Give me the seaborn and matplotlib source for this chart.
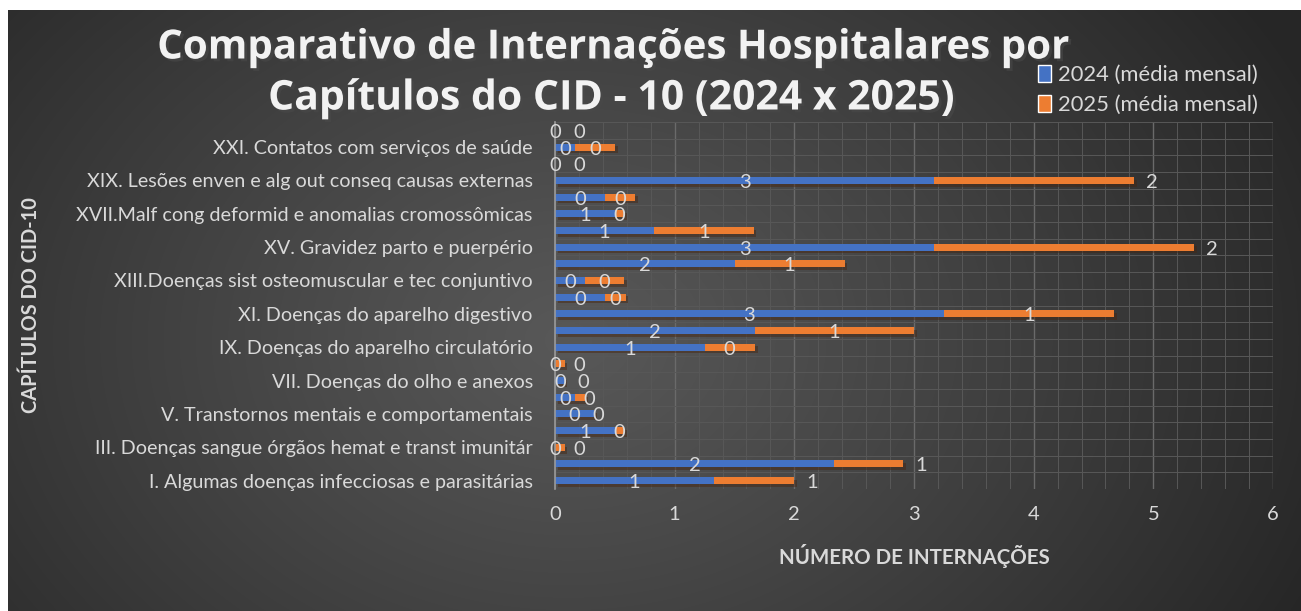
import matplotlib
matplotlib.use("Agg")
import matplotlib.pyplot as plt
import matplotlib.patheffects as pe
from matplotlib.patches import Patch
from matplotlib.ticker import MultipleLocator
import numpy as np
import pandas as pd
import seaborn as sns

CAPITULOS = [
    "I. Algumas doenças infecciosas e parasitárias",
    "II. Neoplasias (tumores)",
    "III. Doenças sangue órgãos hemat e transt imunitár",
    "IV. Doenças endócrinas nutricionais e metabólicas",
    "V. Transtornos mentais e comportamentais",
    "VI. Doenças do sistema nervoso",
    "VII. Doenças do olho e anexos",
    "VIII.Doenças do ouvido e da apófise mastóide",
    "IX. Doenças do aparelho circulatório",
    "X. Doenças do aparelho respiratório",
    "XI. Doenças do aparelho digestivo",
    "XII. Doenças da pele e do tecido subcutâneo",
    "XIII.Doenças sist osteomuscular e tec conjuntivo",
    "XIV. Doenças do aparelho geniturinário",
    "XV. Gravidez parto e puerpério",
    "XVI. Algumas afec originadas no período perinatal",
    "XVII.Malf cong deformid e anomalias cromossômicas",
    "XVIII.Sint sinais e achad anorm ex clín e laborat",
    "XIX. Lesões enven e alg out conseq causas externas",
    "XX. Causas externas de morbidade e mortalidade",
    "XXI. Contatos com serviços de saúde",
    "XXII. Códigos para propósitos especiais",
]
MEDIA_2024 = [1.33, 2.33, 0.0, 0.50, 0.33, 0.17, 0.08, 0.0, 1.25, 1.67, 3.25,
              0.42, 0.25, 1.50, 3.17, 0.83, 0.50, 0.42, 3.17, 0.0, 0.17, 0.0]
MEDIA_2025 = [0.67, 0.58, 0.08, 0.08, 0.0, 0.08, 0.0, 0.08, 0.42, 1.33, 1.42,
              0.17, 0.33, 0.92, 2.17, 0.83, 0.08, 0.25, 1.67, 0.0, 0.33, 0.0]
# chapters whose 2025 label sits outside the bar end
FORA = {0, 1, 14, 18}

AZUL = "#4472C4"
LARANJA = "#ED7D31"
CINZA = "#D9D9D9"

df = pd.DataFrame({"cap": CAPITULOS, "v2024": MEDIA_2024, "v2025": MEDIA_2025})
df["total"] = df["v2024"] + df["v2025"]
ordem = CAPITULOS[::-1]

sns.set_style("dark")
plt.rcParams["font.family"] = ["Lato", "DejaVu Sans"]

W, H = 1301, 611
fig = plt.figure(figsize=(W / 100, H / 100), dpi=100)
fig.patch.set_facecolor("white")

# background gradient of the chart area
bg = fig.add_axes([8 / W, 0, 1 - 8 / W, 1 - 10 / H])
yy, xx = np.mgrid[0:601, 0:1293]
r = np.sqrt(((xx - 560) / 820.0) ** 2 + ((yy - 330) / 620.0) ** 2)
r = np.clip(r, 0, 1)
c0, c1 = 0x58 / 255, 0x26 / 255
g = c0 + (c1 - c0) * r ** 1.1
bg.imshow(np.dstack([g, g, g]), aspect="auto", interpolation="bilinear")
bg.axis("off")

ax = fig.add_axes([555 / W, 1 - 489 / H, (1273 - 555) / W, (489 - 122) / H])
ax.patch.set_alpha(0)

sns.barplot(data=df, y="cap", x="total", order=ordem, color=LARANJA,
            saturation=1, width=0.42, errorbar=None, ax=ax, orient="h")
n_lar = len(ax.patches)
sns.barplot(data=df, y="cap", x="v2024", order=ordem, color=AZUL,
            saturation=1, width=0.42, errorbar=None, ax=ax, orient="h")
for p in ax.patches[:n_lar]:
    p.set_path_effects([pe.SimplePatchShadow(offset=(2, -2), alpha=0.45), pe.Normal()])
    p.set_linewidth(0)
for p in ax.patches[n_lar:]:
    p.set_linewidth(0)

ax.set_xlim(0, 6)
ax.set_ylim(21.5, -0.5)
ax.xaxis.set_major_locator(MultipleLocator(1))
ax.xaxis.set_minor_locator(MultipleLocator(0.2))
ax.set_yticks(np.arange(-0.5, 22, 1), minor=True)
ax.grid(True, which="major", axis="x", color="#6a6a6a", lw=1.0)
ax.grid(True, which="minor", axis="x", color="#585858", lw=0.7)
ax.grid(True, which="minor", axis="y", color="#585858", lw=0.7)
ax.grid(False, which="major", axis="y")
ax.set_axisbelow(True)

ax.set_yticks(range(len(ordem)))
ax.set_yticklabels([c if (CAPITULOS.index(c) % 2 == 0) else "" for c in ordem])
ax.tick_params(axis="y", which="both", length=0, colors=CINZA, labelsize=14.2, pad=16)
ax.tick_params(axis="x", which="both", length=0, colors=CINZA, labelsize=14.5, pad=12)
for s in ["top", "right", "bottom"]:
    ax.spines[s].set_visible(False)
ax.spines["left"].set_color("#9a9a9a")
ax.spines["left"].set_linewidth(1.2)

ax.set_xlabel("NÚMERO DE INTERNAÇÕES", color=CINZA, fontsize=14.8,
              fontweight="bold", labelpad=15)
ax.set_ylabel("")
fig.text(31 / W, 1 - 305 / H, "CAPÍTULOS DO CID-10", rotation=90, color=CINZA,
         fontsize=14.4, fontweight="bold", ha="center", va="center")


def rotulo(v):
    return str(int(np.floor(v + 0.5)))


for i, c in enumerate(ordem):
    k = CAPITULOS.index(c)
    a, b = MEDIA_2024[k], MEDIA_2025[k]
    xa = a / 2
    ax.text(xa, i + 0.12, rotulo(a), color=CINZA, fontsize=14.5,
            ha="center", va="center")
    if k in FORA:
        ax.text(a + b + 0.1, i + 0.12, rotulo(b), color=CINZA, fontsize=14.5,
                ha="left", va="center")
    else:
        xb = max(a + b / 2, xa + 0.2)
        ax.text(xb, i + 0.12, rotulo(b), color=CINZA, fontsize=14.5,
                ha="center", va="center")

sombra = [pe.SimplePatchShadow(offset=(2, -2), alpha=0.6), pe.Normal()]
fig.text(612 / W, 1 - 48 / H, "Comparativo de Internações Hospitalares por",
         color="#F2F2F2", fontsize=29, fontweight="bold", ha="center", va="center",
         family=["Open Sans", "DejaVu Sans"], path_effects=sombra)
fig.text(612 / W, 1 - 99 / H, "Capítulos do CID - 10 (2024 x 2025)",
         color="#F2F2F2", fontsize=29.5, fontweight="bold", ha="center", va="center",
         family=["Open Sans", "DejaVu Sans"], path_effects=sombra)

alcas = [Patch(facecolor=AZUL, label="2024 (média mensal)"),
         Patch(facecolor=LARANJA, label="2025 (média mensal)")]
leg = fig.legend(handles=alcas, loc="upper left", bbox_to_anchor=(1027 / W, 1 - 54 / H),
                 frameon=False, fontsize=15.8, handlelength=0.6, handleheight=0.85,
                 handletextpad=0.3, labelspacing=0.42, borderpad=0)
for t in leg.get_texts():
    t.set_color(CINZA)

fig.savefig("out.png", dpi=100)
